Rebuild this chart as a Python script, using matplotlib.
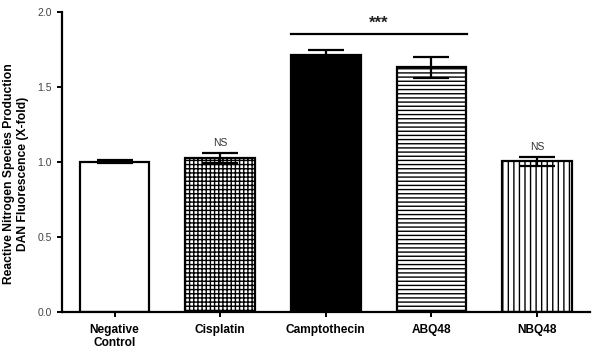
import matplotlib
matplotlib.use("Agg")
import matplotlib.pyplot as plt
import numpy as np

categories = ["Negative\nControl", "Cisplatin", "Camptothecin", "ABQ48", "NBQ48"]
values = [1.00, 1.025, 1.715, 1.63, 1.005]
errors = [0.01, 0.035, 0.03, 0.07, 0.03]
hatches = ["", "++++", "", "----", "|||"]
fills = ["white", "white", "black", "white", "white"]
annotations = ["", "NS", "", "", "NS"]
sig_text = "***"
sig_level = 1.85
sig_pair = (2, 3)
yticks = [0.0, 0.5, 1.0, 1.5, 2.0]

plt.rcParams['font.family'] = ['Liberation Sans', 'DejaVu Sans']
plt.rcParams['hatch.linewidth'] = 1.0

fig = plt.figure(figsize=(6, 3.52), dpi=100)
ax = fig.add_axes([0.103, 0.114, 0.880, 0.852])

x = np.arange(len(categories))
for i in range(len(categories)):
    ax.bar(x[i], values[i], width=0.66, color=fills[i], edgecolor="black",
           linewidth=1.6, hatch=hatches[i], zorder=2)
    ax.errorbar(x[i], values[i], yerr=errors[i], fmt="none", ecolor="black",
                elinewidth=1.6, capsize=13, capthick=1.6, zorder=3)
    if annotations[i]:
        ax.text(x[i], values[i] + errors[i] + 0.03, annotations[i], ha="center",
                va="bottom", fontsize=7.5, color="#333333")

x0, x1 = x[sig_pair[0]] - 0.33, x[sig_pair[1]] + 0.34
ax.plot([x0, x1], [sig_level, sig_level], color="black", lw=1.6, clip_on=False)
ax.text((x0 + x1) / 2, sig_level + 0.025, sig_text, ha="center", va="bottom",
        fontsize=12, fontweight="bold", color="#222222")

ax.set_xlim(-0.5, 4.5)
ax.set_ylim(0, 2.0)
ax.set_yticks(yticks)
ax.set_yticklabels([f"{t:.1f}" for t in yticks], fontsize=7.5, color="#444444")
ax.set_xticks(x)
ax.set_xticklabels(categories, fontsize=8.6, fontweight="bold")
ax.spines["top"].set_visible(False)
ax.spines["right"].set_visible(False)
ax.spines["left"].set_linewidth(1.6)
ax.spines["bottom"].set_linewidth(1.6)
ax.tick_params(axis="both", direction="out", width=1.4, length=3.5)
ax.tick_params(axis="x", pad=5)
ax.set_ylabel("Reactive Nitrogen Species Production\nDAN Fluorescence (X-fold)",
              fontsize=8.7, fontweight="bold")
ax.yaxis.set_label_coords(-0.062, 0.46)

fig.savefig("out.png", dpi=100)
